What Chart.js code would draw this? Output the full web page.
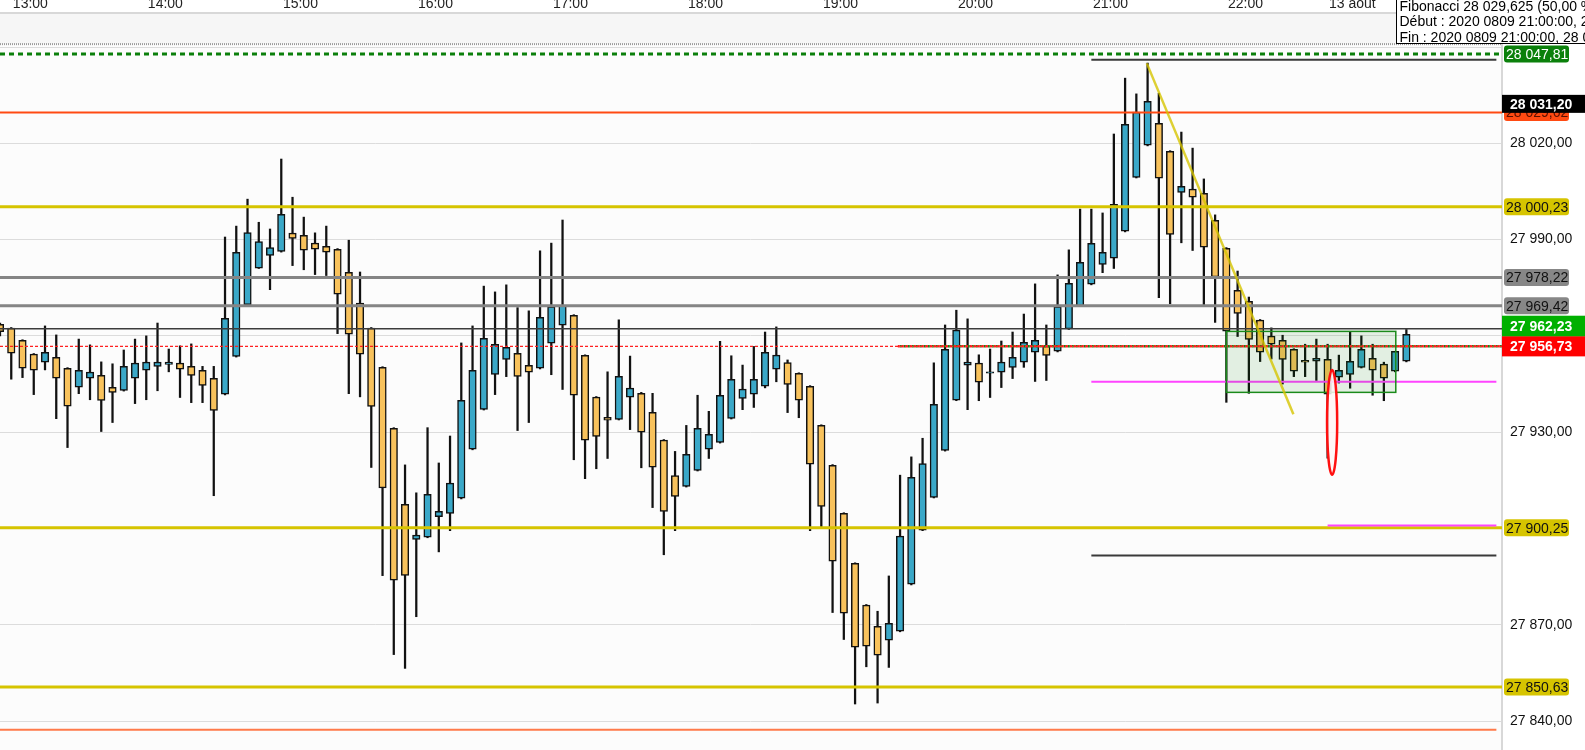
<!DOCTYPE html>
<html>
<head>
    <script src="https://cdn.jsdelivr.net/npm/chart.js@4.4.1/dist/chart.umd.min.js"></script>
    <title>Bougies 5 min</title>
    <style>
        html, body { margin: 0; padding: 0; background: #fff; }
        #graph-area { width: 1585px; height: 750px; position: relative; }
    </style>
</head>
<body>
<div id="graph-area"><canvas id="myChart"></canvas></div>

<script>
    // 5 minute candles, index 0 = first candle on the left
    const opens = [27963.6,27962.4,27958.6,27954.3,27951.8,27953.3,27949.9,27944.0,27946.8,27947.7,
        27944.0,27943.0,27946.8,27949.3,27950.5,27951.1,27951.5,27950.5,27949.3,27946.8,
        27941.8,27953.6,27969.7,27981.1,27985.1,27986.3,27992.0,27991.3,27988.9,27987.9,
        27987.0,27979.8,27970.2,27962.4,27950.2,27931.2,27907.5,27896.6,27897.3,27903.7,
        27904.7,27909.4,27924.7,27937.1,27948.0,27952.7,27954.6,27950.8,27949.9,27957.7,
        27963.3,27966.4,27953.9,27940.9,27934.6,27934.0,27940.9,27942.1,27936.2,27927.5,
        27916.5,27913.1,27918.1,27924.7,27926.8,27934.3,27940.5,27941.8,27944.3,27949.6,
        27951.7,27948.3,27944.3,27932.1,27919.7,27904.7,27889.1,27876.1,27869.5,27865.2,
        27868.0,27882.6,27899.5,27909.7,27924.3,27940.0,27950.9,27951.5,27948.4,27948.7,
        27950.2,27951.8,27954.9,27956.8,27955.2,27962.2,27969.3,27976.1,27982.3,27984.2,
        27992.6,28009.4,28019.4,28026.2,28017.5,28004.7,28005.7,28004.4,27996.0,27987.3,
        27974.2,27970.8,27964.9,27959.9,27958.6,27955.8,27952.4,27952.1,27952.7,27947.1,
        27948.0,27950.2,27953.0,27951.2,27949.0,27952.1];
    const highs = [27964.0,27962.6,27958.8,27954.5,27963.1,27960.3,27950.1,27959.0,27957.2,27951.9,
        27951.3,27955.6,27959.0,27960.0,27964.0,27955.9,27956.9,27957.5,27950.5,27950.5,
        27990.8,27994.2,28002.6,27995.4,27993.3,28015.1,28003.2,27997.0,27992.1,27994.2,
        27987.2,27989.8,27979.9,27962.6,27950.4,27931.4,27919.8,27911.1,27931.4,27920.4,
        27928.8,27957.8,27963.1,27975.5,27973.7,27975.9,27968.8,27967.8,27986.5,27988.9,
        27996.1,27966.6,27954.1,27941.1,27948.8,27965.0,27953.7,27942.4,27942.1,27927.7,
        27924.0,27932.1,27941.5,27936.5,27958.3,27953.8,27950.9,27956.7,27961.2,27962.8,
        27952.5,27948.5,27944.5,27932.3,27919.9,27904.9,27889.3,27876.3,27874.2,27885.2,
        27916.6,27922.3,27928.1,27951.6,27963.4,27968.0,27965.3,27954.1,27955.9,27958.4,
        27961.2,27966.8,27976.2,27963.4,27979.0,27986.8,27999.5,27999.5,27998.3,28022.9,
        28040.3,28035.4,28045.0,28035.6,28017.7,28023.5,28018.5,28008.9,27997.7,27987.5,
        27980.2,27972.1,27965.1,27962.5,27960.2,27956.0,27957.4,27959.0,27957.4,27954.0,
        27961.2,27960.0,27957.4,27951.8,27955.2,27962.0];
    const lows = [27960.0,27946.5,27947.0,27941.7,27949.4,27934.2,27925.2,27942.0,27940.1,27930.2,
        27933.0,27942.8,27938.9,27940.1,27942.9,27948.8,27940.8,27939.2,27939.2,27910.2,
        27941.6,27953.4,27969.5,27981.0,27974.4,27986.1,27981.9,27980.6,27979.1,27978.8,
        27960.7,27942.0,27941.0,27919.0,27885.3,27860.7,27856.4,27872.5,27897.1,27892.7,
        27899.3,27909.2,27924.5,27936.9,27941.7,27947.3,27930.5,27933.0,27949.7,27947.9,
        27943.3,27921.4,27915.5,27918.6,27921.8,27933.8,27930.8,27918.9,27906.5,27891.8,
        27899.3,27912.9,27917.9,27921.8,27926.6,27934.1,27937.0,27937.7,27943.8,27945.7,
        27936.1,27934.5,27899.3,27900.4,27873.8,27865.4,27845.3,27856.9,27845.6,27856.7,
        27867.8,27882.4,27899.3,27909.5,27924.1,27939.8,27937.0,27939.8,27940.8,27943.9,
        27946.7,27950.2,27945.8,27946.1,27955.0,27962.0,27969.1,27975.9,27979.7,27981.0,
        27992.4,28009.2,28019.2,27971.9,27970.0,27989.0,27986.6,27969.7,27964.2,27939.3,
        27959.8,27942.1,27952.0,27952.8,27945.0,27947.3,27947.3,27946.1,27921.9,27945.3,
        27943.7,27950.0,27941.5,27939.8,27948.8,27951.9];
    const closes = [27961.3,27954.6,27949.9,27949.3,27954.9,27946.8,27938.1,27949.3,27948.7,27939.9,
        27942.4,27950.5,27951.5,27951.8,27951.8,27951.8,27949.6,27947.7,27944.6,27936.8,
        27965.5,27986.0,27992.2,27989.4,27987.5,27997.9,27990.4,27986.7,27987.0,27986.1,
        27973.0,27960.5,27954.3,27938.0,27912.6,27883.9,27885.4,27897.9,27910.6,27905.3,
        27914.1,27939.9,27949.3,27959.2,27957.4,27956.4,27947.4,27948.7,27965.8,27969.1,
        27969.5,27941.5,27927.5,27928.7,27933.7,27947.4,27943.7,27930.0,27919.1,27905.3,
        27910.0,27923.1,27931.2,27929.3,27941.5,27946.5,27943.4,27946.5,27954.9,27954.0,
        27944.9,27940.0,27920.0,27906.9,27889.8,27873.6,27863.0,27863.3,27860.5,27870.4,
        27897.6,27915.9,27920.2,27938.7,27955.8,27961.8,27951.8,27945.6,27948.8,27951.8,
        27953.3,27958.0,27958.6,27953.9,27969.1,27976.4,27982.9,27988.8,27986.0,28001.0,
        28025.9,28029.7,28033.1,28009.1,27991.6,28006.6,28003.2,27987.6,27978.4,27961.5,
        27967.0,27958.9,27954.9,27957.4,27952.7,27949.0,27951.8,27953.0,27941.8,27949.3,
        27952.1,27955.8,27949.3,27946.8,27955.2,27960.5];

    // time axis (candle index of each label)
    const timeLabels = ['13:00', '14:00', '15:00', '16:00', '17:00', '18:00', '19:00', '20:00', '21:00', '22:00', '13 aout'];
    const timeLabelPos = [2.7, 14.7, 26.7, 38.7, 50.7, 62.7, 74.7, 86.7, 98.7, 110.7, 120.2];

    // horizontal levels: value, first and last candle index
    const levelValues = [28047.81, 28046.00, 28029.62, 28000.23, 27978.22, 27969.42, 27962.23, 27956.73, 27945.70, 27900.90, 27900.25, 27891.60, 27850.63, 27837.30];
    const levelFrom   = [0, 97, 0, 0, 0, 0, 0, 0, 97, 118, 0, 97, 0, 0];
    const levelTo     = [133.5, 133, 133.5, 133.5, 133.5, 133.5, 133.5, 133.5, 133, 133, 133.5, 133, 133.5, 133];
    const bidLineFrom = 79.8;

    // price tags on the right axis
    const tagValues = [28047.81, 28029.62, 28031.20, 28000.23, 27978.22, 27969.42, 27962.23, 27956.73, 27900.25, 27850.63];

    // drawings: trend line, zone box, ellipse (candle index / price)
    const trendX = [101.93, 114.96];
    const trendY = [28044.9, 27935.6];
    const zoneX = [109.0, 124.06];
    const zoneY = [27961.4, 27942.4];
    const ellipseX = [117.95, 118.85];
    const ellipseY = [27949.4, 27916.7];

    const panelBottom = 28050.9;
    const yMin = 27830.97, yMax = 28060.6;
    const xMin = 0, xMax = 133.5;

    const infoLines = [
        'Fibonacci 28 029,625 (50,00 %)',
        'Début : 2020 0809 21:00:00, 28 046,00',
        'Fin : 2020 0809 21:00:00, 28 013,25'
    ];

    const FONT = "'Liberation Sans', Arial, sans-serif";
    Chart.defaults.font.family = FONT;

    function fmt(v) {
        const s = v.toFixed(2).split('.');
        return s[0].replace(/\B(?=(\d{3})+(?!\d))/g, ' ') + ',' + s[1];
    }

    const upColor = '#3aa8c8';
    const downColor = '#f8c25c';

    // styles for each level line, same order as levelValues
    const levelStyle = [
        { color: '#0b7f0b', width: 3, dash: [5, 4] },
        { color: '#3a3a3a', width: 2, dash: [] },
        { color: '#ff4a12', width: 2, dash: [] },
        { color: '#d6c400', width: 3, dash: [] },
        { color: '#858585', width: 3, dash: [] },
        { color: '#858585', width: 3, dash: [] },
        { color: '#3c3c3c', width: 1.5, dash: [] },
        { color: '#ff2020', width: 1.3, dash: [3, 2] },
        { color: '#ff44ff', width: 2, dash: [] },
        { color: '#ff44ff', width: 2, dash: [] },
        { color: '#d6c400', width: 3, dash: [] },
        { color: '#3a3a3a', width: 2, dash: [] },
        { color: '#d6c400', width: 3, dash: [] },
        { color: '#ff7a4a', width: 2, dash: [] }
    ];

    // shift / height of each tag (tags pushed apart where they collide)
    const tagStyle = [
        { bg: '#0b800b', fg: '#ffffff', big: false, shift: 0, h: 17 },
        { bg: '#ff4a12', fg: '#5a1000', big: false, shift: 0, h: 17 },
        { bg: '#000000', fg: '#ffffff', big: true, shift: -3.5, h: 18 },
        { bg: '#d6c400', fg: '#111111', big: false, shift: 0, h: 17 },
        { bg: '#878787', fg: '#111111', big: false, shift: 0, h: 17 },
        { bg: '#878787', fg: '#111111', big: false, shift: 0, h: 17 },
        { bg: '#00b000', fg: '#ffffff', big: true, shift: -2.5, h: 21 },
        { bg: '#ff0000', fg: '#ffffff', big: true, shift: 0, h: 20 },
        { bg: '#d6c400', fg: '#111111', big: false, shift: 0, h: 17 },
        { bg: '#d6c400', fg: '#111111', big: false, shift: 0, h: 17 }
    ];

    function hline(v, a, b, st, order) {
        return {
            type: 'line',
            data: [{ x: a, y: v }, { x: b, y: v }],
            borderColor: st.color,
            borderWidth: st.width,
            borderDash: st.dash,
            borderDashOffset: st.offset || 0,
            pointRadius: 0,
            fill: false,
            order: order
        };
    }

    const lineSets = levelValues.map((v, i) => hline(v, levelFrom[i], levelTo[i], levelStyle[i], 0));
    lineSets.push(hline(levelValues[7], bidLineFrom, xMax, { color: '#ff2020', width: 2.5, dash: [2, 2] }, 0));
    lineSets.push(hline(levelValues[7], bidLineFrom, xMax, { color: '#138a13', width: 2.5, dash: [2, 2], offset: 2 }, 0));

    const wicks = {
        type: 'bar',
        data: highs.map((h, i) => ({ x: i, y: [lows[i], h] })),
        backgroundColor: '#111111',
        barThickness: 1.6,
        grouped: false,
        order: 2
    };
    const bodies = {
        type: 'bar',
        data: opens.map((o, i) => ({ x: i, y: [o, closes[i]] })),
        backgroundColor: opens.map((o, i) => closes[i] >= o ? upColor : downColor),
        borderColor: '#111111',
        borderWidth: 1.5,
        borderSkipped: false,
        barThickness: 7.5,
        grouped: false,
        order: 1
    };

    const decor = {
        id: 'decor',
        beforeDraw(chart) {
            const { ctx, chartArea: a } = chart;
            const ys = chart.scales.y;
            ctx.save();
            ctx.fillStyle = '#ffffff';
            ctx.fillRect(0, 0, chart.width, chart.height);
            ctx.fillStyle = '#fcfcfc';
            ctx.fillRect(a.left, a.top, a.right - a.left, a.bottom - a.top);
            const pb = ys.getPixelForValue(panelBottom);
            ctx.fillStyle = '#f6f6f6';
            ctx.fillRect(a.left, a.top, a.right - a.left, pb - a.top);
            ctx.strokeStyle = '#9a9a9a';
            ctx.lineWidth = 2;
            ctx.setLineDash([1, 1]);
            ctx.beginPath();
            ctx.moveTo(a.left, pb);
            ctx.lineTo(a.right, pb);
            ctx.stroke();
            ctx.restore();
        },
        afterDatasetsDraw(chart) {
            const { ctx, chartArea: a } = chart;
            const xs = chart.scales.x, ys = chart.scales.y;
            ctx.save();
            ctx.beginPath();
            ctx.rect(a.left, a.top, a.right - a.left, a.bottom - a.top);
            ctx.clip();

            // zone box
            const bx0 = xs.getPixelForValue(zoneX[0]), bx1 = xs.getPixelForValue(zoneX[1]);
            const by0 = ys.getPixelForValue(zoneY[0]), by1 = ys.getPixelForValue(zoneY[1]);
            ctx.fillStyle = 'rgba(0,128,0,0.1)';
            ctx.fillRect(bx0, by0, bx1 - bx0, by1 - by0);
            ctx.strokeStyle = '#1a8a1a';
            ctx.lineWidth = 1.5;
            ctx.strokeRect(bx0, by0, bx1 - bx0, by1 - by0);

            // trend line
            ctx.strokeStyle = 'rgba(214,196,0,0.8)';
            ctx.lineWidth = 2.5;
            ctx.beginPath();
            ctx.moveTo(xs.getPixelForValue(trendX[0]), ys.getPixelForValue(trendY[0]));
            ctx.lineTo(xs.getPixelForValue(trendX[1]), ys.getPixelForValue(trendY[1]));
            ctx.stroke();

            // red ellipse
            const ex0 = xs.getPixelForValue(ellipseX[0]), ex1 = xs.getPixelForValue(ellipseX[1]);
            const ey0 = ys.getPixelForValue(ellipseY[0]), ey1 = ys.getPixelForValue(ellipseY[1]);
            ctx.beginPath();
            ctx.ellipse((ex0 + ex1) / 2, (ey0 + ey1) / 2, (ex1 - ex0) / 2, (ey1 - ey0) / 2, 0, 0, Math.PI * 2);
            ctx.fillStyle = 'rgba(255,245,245,0.85)';
            ctx.fill();
            ctx.strokeStyle = '#ff1010';
            ctx.lineWidth = 2.5;
            ctx.stroke();
            ctx.restore();
        },
        afterDraw(chart) {
            const { ctx, chartArea: a } = chart;
            const ys = chart.scales.y;
            ctx.save();
            ctx.textBaseline = 'middle';
            tagValues.forEach((v, i) => {
                const st = tagStyle[i];
                const yc = ys.getPixelForValue(v) + st.shift;
                ctx.fillStyle = st.bg;
                if (st.big) {
                    ctx.fillRect(a.right, yc - st.h / 2, chart.width - a.right, st.h);
                    ctx.font = 'bold 14px ' + FONT;
                    ctx.fillStyle = st.fg;
                    ctx.fillText(fmt(v), a.right + 8, yc + 1);
                } else {
                    ctx.beginPath();
                    ctx.roundRect(a.right + 2, yc - st.h / 2, 65, st.h, 3);
                    ctx.fill();
                    ctx.font = '14px ' + FONT;
                    ctx.fillStyle = st.fg;
                    ctx.fillText(fmt(v), a.right + 4, yc + 1);
                }
            });

            // info box top right
            const bx = a.right - 105.5;
            ctx.fillStyle = '#ffffff';
            ctx.fillRect(bx, -2, chart.width - bx + 2, 45.5);
            ctx.strokeStyle = '#000000';
            ctx.lineWidth = 1;
            ctx.strokeRect(bx, -2, chart.width - bx + 2, 45.5);
            ctx.font = '14px ' + FONT;
            ctx.fillStyle = '#000000';
            ctx.textBaseline = 'alphabetic';
            infoLines.forEach((t, i) => ctx.fillText(t, bx + 3, 10.5 + i * 15.7));
            ctx.restore();
        }
    };

    const ctx = document.getElementById('myChart').getContext('2d');
    const myChart = new Chart(ctx, {
        type: 'bar',
        data: { datasets: [...lineSets, bodies, wicks] },
        options: {
            responsive: true,
            maintainAspectRatio: false,
            devicePixelRatio: 1,
            animation: false,
            layout: { padding: 0 },
            plugins: { legend: { display: false }, tooltip: { enabled: false } },
            scales: {
                x: {
                    type: 'linear',
                    position: 'top',
                    min: xMin,
                    max: xMax,
                    offset: false,
                    grid: { display: false, offset: false, drawTicks: false },
                    border: { display: true, color: '#d8d8d8', width: 2 },
                    afterBuildTicks: (scale) => { scale.ticks = timeLabelPos.map(v => ({ value: v })); },
                    afterFit: (scale) => { scale.height = 13; scale.paddingLeft = 0; scale.paddingRight = 0; },
                    ticks: {
                        autoSkip: false,
                        maxRotation: 0,
                        padding: 0,
                        color: '#222',
                        font: { size: 14 },
                        callback: (v, i) => timeLabels[i]
                    }
                },
                y: {
                    type: 'linear',
                    position: 'right',
                    min: yMin,
                    max: yMax,
                    grid: { color: '#dcdcdc', lineWidth: 1, drawTicks: false },
                    border: { display: true, color: '#d8d8d8', width: 2 },
                    afterFit: (scale) => { scale.width = 83; scale.paddingTop = 0; scale.paddingBottom = 0; },
                    ticks: {
                        stepSize: 30,
                        includeBounds: false,
                        padding: 8,
                        color: '#111',
                        font: { size: 14 },
                        callback: (v) => (v === 28050 || v === 27960 || v === 27900) ? '' : fmt(v)
                    }
                }
            }
        },
        plugins: [decor]
    });
</script>
</body>
</html>
